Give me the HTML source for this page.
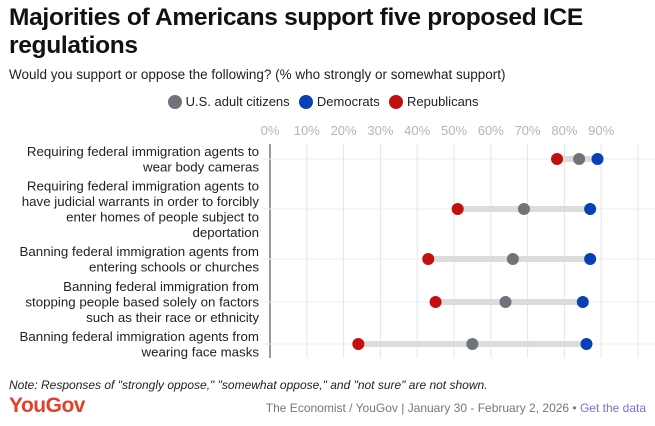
<!DOCTYPE html>
<html><head><meta charset="utf-8"><style>
body{margin:0;width:655px;height:426px;background:#fff;font-family:"Liberation Sans",sans-serif;overflow:hidden;position:relative}
.t{position:absolute;white-space:nowrap}
</style></head><body>
<div class="t" style="left:9px;top:4px;font-size:24.5px;font-weight:bold;line-height:28px;color:#111;letter-spacing:-0.3px">Majorities of Americans support five proposed ICE<br>regulations</div>
<div class="t" style="left:9px;top:67px;font-size:13.5px;color:#222">Would you support or oppose the following? (% who strongly or somewhat support)</div>
<div class="t" style="left:168px;top:94px;font-size:13px;color:#222">
<span><span style="display:inline-block;width:14px;height:14px;border-radius:50%;background:#6f737a;vertical-align:-3px"></span> U.S. adult citizens</span>
<span style="margin-left:6px"><span style="display:inline-block;width:14px;height:14px;border-radius:50%;background:#0a3fb5;vertical-align:-3px"></span> Democrats</span>
<span style="margin-left:6px"><span style="display:inline-block;width:14px;height:14px;border-radius:50%;background:#c40f0f;vertical-align:-3px"></span> Republicans</span>
</div>
<svg id="chart" width="655" height="426" style="position:absolute;left:0;top:0" xmlns="http://www.w3.org/2000/svg"></svg>
<div class="t" style="left:9px;top:378px;font-size:12px;font-style:italic;color:#222">Note: Responses of "strongly oppose," "somewhat oppose," and "not sure" are not shown.</div>
<div class="t" style="left:9px;top:394px;font-size:21px;font-weight:bold;color:#e0412b;letter-spacing:-0.5px">YouGov</div>
<div class="t" style="right:9px;top:401px;font-size:12px;color:#777">The Economist / YouGov | January 30 - February 2, 2026 • <span style="color:#7b6fd6">Get the data</span></div>
<script>
const categories=[["Requiring federal immigration agents to","wear body cameras"],["Requiring federal immigration agents to","have judicial warrants in order to forcibly","enter homes of people subject to","deportation"],["Banning federal immigration agents from","entering schools or churches"],["Banning federal immigration from","stopping people based solely on factors","such as their race or ethnicity"],["Banning federal immigration agents from","wearing face masks"]];
const citizens=[84,69,66,64,55];
const democrats=[89,87,87,85,86];
const republicans=[78,51,43,45,24];
const ticks=[0,10,20,30,40,50,60,70,80,90,100];
const rowY=[159,209,259,302,344];
const svg=document.getElementById('chart');
const NS='http://www.w3.org/2000/svg';
const x=v=>270+v*3.68;
function mk(tag,a){const e=document.createElementNS(NS,tag);for(const k in a)e.setAttribute(k,a[k]);svg.appendChild(e);return e;}
ticks.forEach(t=>{
 const g=mk('line',{x1:x(t),x2:x(t),y1:144,y2:358,stroke:'#e4e4e4','stroke-width':1});
 
 
 if(t<100){const l=mk('text',{x:x(t),y:135,'text-anchor':'middle','font-size':13,fill:'#b5b5b5','font-family':'Liberation Sans, sans-serif'});l.textContent=t+'%';
 
 }
});
const ax=mk('line',{x1:270,x2:270,y1:144,y2:358,stroke:'#333','stroke-width':1});


categories.forEach((c,i)=>{
 const y=rowY[i];
 const rg=mk('line',{x1:262,x2:655,y1:y,y2:y,stroke:'#eee','stroke-width':1});
 
 
 const lh=15.5,y0=y-(c.length-1)*lh/2+4.5;
 c.forEach((s,j)=>{const t=mk('text',{x:259,y:y0+j*lh,'text-anchor':'end','font-size':13.3,fill:'#222','font-family':'Liberation Sans, sans-serif'});t.textContent=s;
 
 });
 const lo=Math.min(citizens[i],democrats[i],republicans[i]),hi=Math.max(citizens[i],democrats[i],republicans[i]);
 const b=mk('line',{x1:x(lo),x2:x(hi),y1:y,y2:y,stroke:'#dcdcdc','stroke-width':6});
 
 
 [[citizens,'#6f737a','citizens'],[republicans,'#c40f0f','republicans'],[democrats,'#0a3fb5','democrats']].forEach(([arr,col,n])=>{
  const d=mk('circle',{cx:x(arr[i]),cy:y,r:6,fill:col});
  
  
 });
});
</script>
</body></html>
